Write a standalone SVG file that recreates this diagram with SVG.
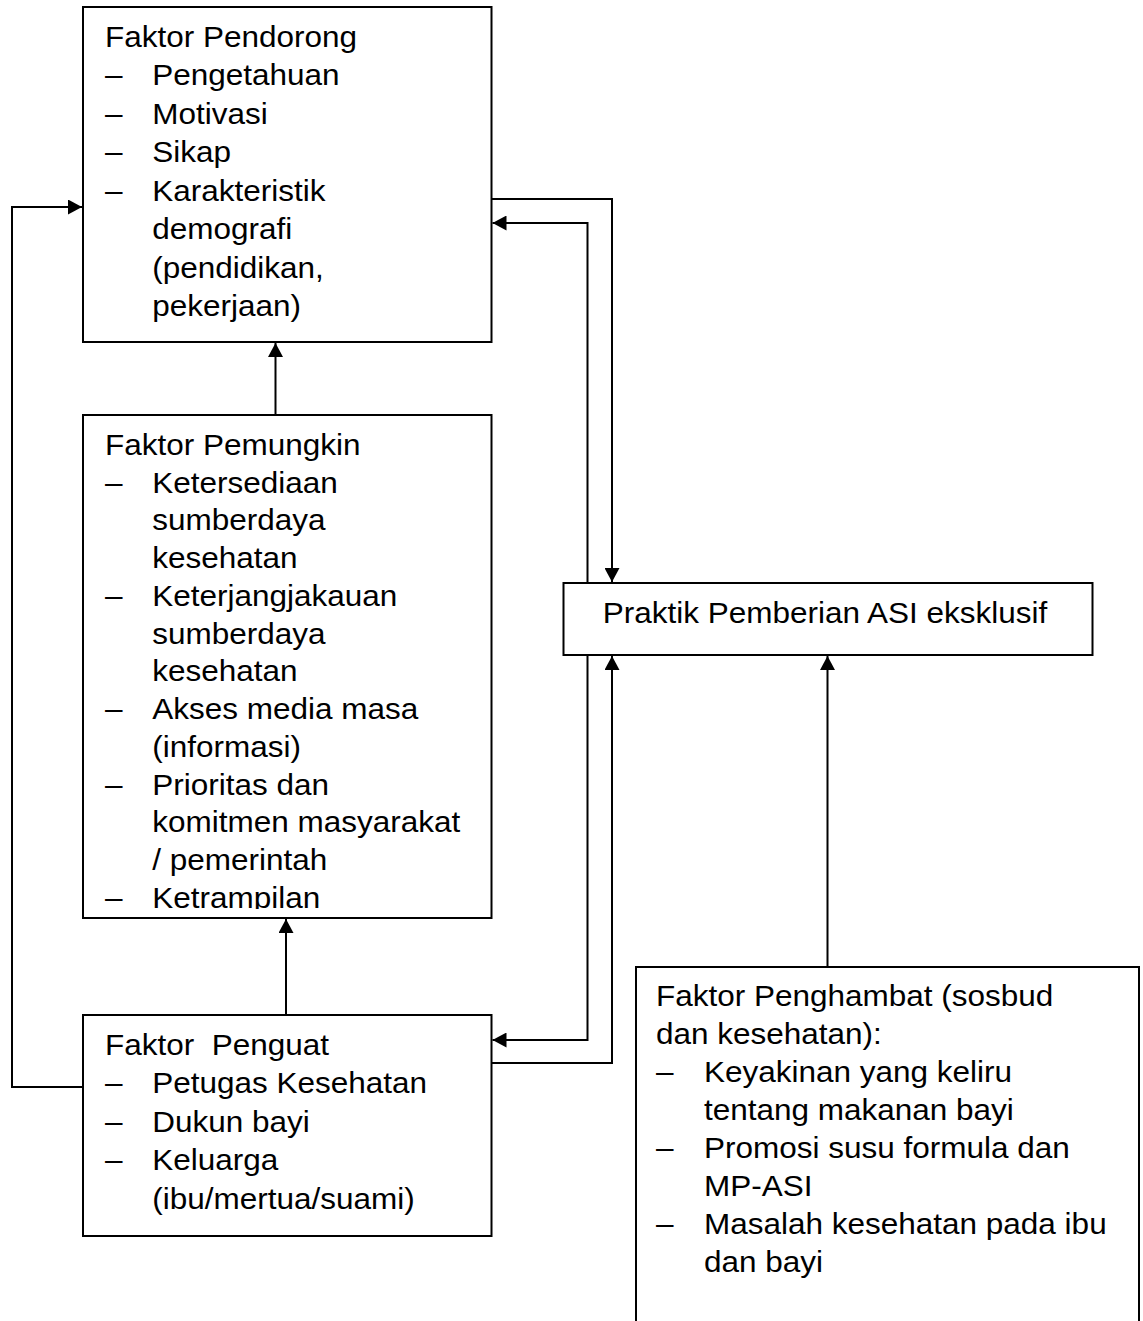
<svg xmlns="http://www.w3.org/2000/svg" width="1143" height="1321" viewBox="0 0 1143 1321">
<style>
.box{fill:#fff;stroke:#000;stroke-width:2}
.t{font-family:"Liberation Sans",Arial,sans-serif;font-size:30px;fill:#000;white-space:pre}
.c{fill:none;stroke:#000;stroke-width:2}
</style>
<defs>
<marker id="ah" markerUnits="userSpaceOnUse" markerWidth="15" markerHeight="15" refX="14" refY="7.5" orient="auto">
<path d="M0,0 L14,7.5 L0,15 z" fill="#000"/>
</marker>
<clipPath id="clipPem"><rect x="84" y="416" width="406" height="493"/></clipPath>
</defs>
<rect width="1143" height="1321" fill="#fff"/>

<g id="connectors">
<path class="c" d="M83 1087 H12 V207 H82" marker-end="url(#ah)"/>
<path class="c" d="M275.5 415 V343" marker-end="url(#ah)"/>
<path class="c" d="M286 1015 V919" marker-end="url(#ah)"/>
<path class="c" d="M491.5 199 H612 V582" marker-end="url(#ah)"/>
<path class="c" d="M587.5 583 V223 H492.5" marker-end="url(#ah)"/>
<path class="c" d="M587.5 655 V1040 H492.5" marker-end="url(#ah)"/>
<path class="c" d="M491.5 1063 H612 V656" marker-end="url(#ah)"/>
<path class="c" d="M827.5 967 V656" marker-end="url(#ah)"/>
</g>

<g id="pendorong">
<rect class="box" x="83" y="7" width="408.5" height="335"/>
<g transform="translate(105 0) scale(1.05 1)">
<text class="t" x="0" y="47">Faktor Pendorong</text>
<text class="t" x="0" y="85.5">–</text><text class="t" x="45" y="85.5">Pengetahuan</text>
<text class="t" x="0" y="124">–</text><text class="t" x="45" y="124">Motivasi</text>
<text class="t" x="0" y="162.5">–</text><text class="t" x="45" y="162.5">Sikap</text>
<text class="t" x="0" y="201">–</text><text class="t" x="45" y="201">Karakteristik</text>
<text class="t" x="45" y="239.5">demografi</text>
<text class="t" x="45" y="278">(pendidikan,</text>
<text class="t" x="45" y="316.5">pekerjaan)</text>
</g>
</g>

<g id="pemungkin">
<rect class="box" x="83" y="415" width="408.5" height="503"/>
<g clip-path="url(#clipPem)">
<g transform="translate(105 0) scale(1.05 1)">
<text class="t" x="0" y="455">Faktor Pemungkin</text>
<text class="t" x="0" y="492.75">–</text><text class="t" x="45" y="492.75">Ketersediaan</text>
<text class="t" x="45" y="530.5">sumberdaya</text>
<text class="t" x="45" y="568.25">kesehatan</text>
<text class="t" x="0" y="606">–</text><text class="t" x="45" y="606">Keterjangjakauan</text>
<text class="t" x="45" y="643.75">sumberdaya</text>
<text class="t" x="45" y="681.5">kesehatan</text>
<text class="t" x="0" y="719.25">–</text><text class="t" x="45" y="719.25">Akses media masa</text>
<text class="t" x="45" y="757">(informasi)</text>
<text class="t" x="0" y="794.75">–</text><text class="t" x="45" y="794.75">Prioritas dan</text>
<text class="t" x="45" y="832.5">komitmen masyarakat</text>
<text class="t" x="45" y="870.25">/ pemerintah</text>
<text class="t" x="0" y="908">–</text><text class="t" x="45" y="908">Ketrampilan</text>
</g>
</g>
</g>

<g id="penguat">
<rect class="box" x="83" y="1015" width="408.5" height="221"/>
<g transform="translate(105 0) scale(1.05 1)">
<text class="t" x="0" y="1055">Faktor  Penguat</text>
<text class="t" x="0" y="1093.5">–</text><text class="t" x="45" y="1093.5">Petugas Kesehatan</text>
<text class="t" x="0" y="1132">–</text><text class="t" x="45" y="1132">Dukun bayi</text>
<text class="t" x="0" y="1170.5">–</text><text class="t" x="45" y="1170.5">Keluarga</text>
<text class="t" x="45" y="1209">(ibu/mertua/suami)</text>
</g>
</g>

<g id="praktik">
<rect class="box" x="563.5" y="583" width="529" height="72"/>
<g transform="translate(602.7 0) scale(1.05 1)">
<text class="t" x="0" y="622.7">Praktik Pemberian ASI eksklusif</text>
</g>
</g>

<g id="penghambat">
<rect class="box" x="636" y="967" width="503" height="370"/>
<g transform="translate(656 0) scale(1.05 1)">
<text class="t" x="0" y="1006.5">Faktor Penghambat (sosbud</text>
<text class="t" x="0" y="1044.4">dan kesehatan):</text>
<text class="t" x="0" y="1082.3">–</text><text class="t" x="45.7" y="1082.3">Keyakinan yang keliru</text>
<text class="t" x="45.7" y="1120.2">tentang makanan bayi</text>
<text class="t" x="0" y="1158.1">–</text><text class="t" x="45.7" y="1158.1">Promosi susu formula dan</text>
<text class="t" x="45.7" y="1196">MP-ASI</text>
<text class="t" x="0" y="1233.9">–</text><text class="t" x="45.7" y="1233.9">Masalah kesehatan pada ibu</text>
<text class="t" x="45.7" y="1271.8">dan bayi</text>
</g>
</g>
</svg>
